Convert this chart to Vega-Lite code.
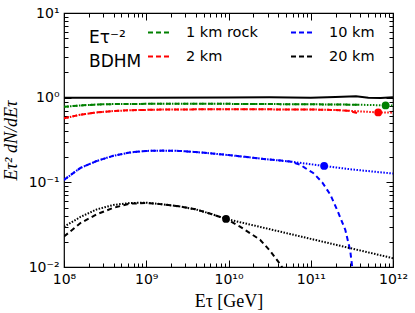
{
  "$schema": "https://vega.github.io/schema/vega-lite/v6.json",
  "width": 329,
  "height": 254,
  "autosize": {"type": "none"},
  "padding": {"left": 64, "top": 13, "right": 22, "bottom": 46},
  "background": "white",
  "config": {
    "view": {"stroke": "black", "strokeWidth": 1.2},
    "axis": {
      "domain": false,
      "grid": false,
      "labelFont": "DejaVu Sans",
      "labelFontSize": 14,
      "labelColor": "black",
      "labelFlush": false,
      "labelOverlap": false,
      "tickColor": "black",
      "tickWidth": 1,
      "titleFont": "Liberation Serif",
      "titleFontSize": 18,
      "titleFontWeight": "normal",
      "titleColor": "black"
    }
  },
  "datasets": {
    "curves": [
      {"series": "E-2", "style": "solid", "E": 1e8, "flux": 1.0},
      {"series": "E-2", "style": "solid", "E": 1e9, "flux": 1.0},
      {"series": "E-2", "style": "solid", "E": 1e10, "flux": 1.005},
      {"series": "E-2", "style": "solid", "E": 3.162e10, "flux": 1.01},
      {"series": "E-2", "style": "solid", "E": 1e11, "flux": 1.0},
      {"series": "E-2", "style": "solid", "E": 1.995e11, "flux": 1.015},
      {"series": "E-2", "style": "solid", "E": 3.548e11, "flux": 1.04},
      {"series": "E-2", "style": "solid", "E": 5.012e11, "flux": 1.0},
      {"series": "E-2", "style": "solid", "E": 7.079e11, "flux": 0.99},
      {"series": "E-2", "style": "solid", "E": 1e12, "flux": 1.01},

      {"series": "1 km rock", "style": "dashed", "E": 1e8, "flux": 0.78},
      {"series": "1 km rock", "style": "dashed", "E": 1.585e8, "flux": 0.81},
      {"series": "1 km rock", "style": "dashed", "E": 2.512e8, "flux": 0.83},
      {"series": "1 km rock", "style": "dashed", "E": 3.981e8, "flux": 0.84},
      {"series": "1 km rock", "style": "dashed", "E": 1e9, "flux": 0.845},
      {"series": "1 km rock", "style": "dashed", "E": 1e10, "flux": 0.845},
      {"series": "1 km rock", "style": "dashed", "E": 1e11, "flux": 0.835},
      {"series": "1 km rock", "style": "dashed", "E": 3.981e11, "flux": 0.825},

      {"series": "1 km rock", "style": "dotted", "E": 1e8, "flux": 0.78},
      {"series": "1 km rock", "style": "dotted", "E": 1.585e8, "flux": 0.81},
      {"series": "1 km rock", "style": "dotted", "E": 2.512e8, "flux": 0.83},
      {"series": "1 km rock", "style": "dotted", "E": 3.981e8, "flux": 0.84},
      {"series": "1 km rock", "style": "dotted", "E": 1e9, "flux": 0.845},
      {"series": "1 km rock", "style": "dotted", "E": 1e10, "flux": 0.845},
      {"series": "1 km rock", "style": "dotted", "E": 1e11, "flux": 0.835},
      {"series": "1 km rock", "style": "dotted", "E": 3.981e11, "flux": 0.825},
      {"series": "1 km rock", "style": "dotted", "E": 8.128e11, "flux": 0.81},
      {"series": "1 km rock", "style": "dotted", "E": 1e12, "flux": 0.805},

      {"series": "2 km", "style": "dashed", "E": 1e8, "flux": 0.57},
      {"series": "2 km", "style": "dashed", "E": 1.585e8, "flux": 0.63},
      {"series": "2 km", "style": "dashed", "E": 2.512e8, "flux": 0.67},
      {"series": "2 km", "style": "dashed", "E": 3.981e8, "flux": 0.695},
      {"series": "2 km", "style": "dashed", "E": 6.31e8, "flux": 0.71},
      {"series": "2 km", "style": "dashed", "E": 1.585e9, "flux": 0.725},
      {"series": "2 km", "style": "dashed", "E": 1e10, "flux": 0.73},
      {"series": "2 km", "style": "dashed", "E": 1e11, "flux": 0.725},
      {"series": "2 km", "style": "dashed", "E": 1.995e11, "flux": 0.715},
      {"series": "2 km", "style": "dashed", "E": 2.818e11, "flux": 0.70},
      {"series": "2 km", "style": "dashed", "E": 3.548e11, "flux": 0.665},
      {"series": "2 km", "style": "dashed", "E": 3.981e11, "flux": 0.64},

      {"series": "2 km", "style": "dotted", "E": 1e8, "flux": 0.57},
      {"series": "2 km", "style": "dotted", "E": 1.585e8, "flux": 0.63},
      {"series": "2 km", "style": "dotted", "E": 2.512e8, "flux": 0.67},
      {"series": "2 km", "style": "dotted", "E": 3.981e8, "flux": 0.695},
      {"series": "2 km", "style": "dotted", "E": 6.31e8, "flux": 0.71},
      {"series": "2 km", "style": "dotted", "E": 1.585e9, "flux": 0.725},
      {"series": "2 km", "style": "dotted", "E": 1e10, "flux": 0.73},
      {"series": "2 km", "style": "dotted", "E": 1e11, "flux": 0.725},
      {"series": "2 km", "style": "dotted", "E": 1.995e11, "flux": 0.715},
      {"series": "2 km", "style": "dotted", "E": 2.512e11, "flux": 0.705},
      {"series": "2 km", "style": "dotted", "E": 6.607e11, "flux": 0.67},
      {"series": "2 km", "style": "dotted", "E": 1e12, "flux": 0.665},

      {"series": "10 km", "style": "dashed", "E": 1e8, "flux": 0.107},
      {"series": "10 km", "style": "dashed", "E": 1.585e8, "flux": 0.148},
      {"series": "10 km", "style": "dashed", "E": 2.512e8, "flux": 0.179},
      {"series": "10 km", "style": "dashed", "E": 3.981e8, "flux": 0.206},
      {"series": "10 km", "style": "dashed", "E": 6.31e8, "flux": 0.225},
      {"series": "10 km", "style": "dashed", "E": 1e9, "flux": 0.235},
      {"series": "10 km", "style": "dashed", "E": 1.585e9, "flux": 0.237},
      {"series": "10 km", "style": "dashed", "E": 2.512e9, "flux": 0.235},
      {"series": "10 km", "style": "dashed", "E": 3.981e9, "flux": 0.228},
      {"series": "10 km", "style": "dashed", "E": 6.31e9, "flux": 0.219},
      {"series": "10 km", "style": "dashed", "E": 1e10, "flux": 0.21},
      {"series": "10 km", "style": "dashed", "E": 1.585e10, "flux": 0.2},
      {"series": "10 km", "style": "dashed", "E": 2.512e10, "flux": 0.19},
      {"series": "10 km", "style": "dashed", "E": 3.981e10, "flux": 0.182},
      {"series": "10 km", "style": "dashed", "E": 5.623e10, "flux": 0.176},
      {"series": "10 km", "style": "dashed", "E": 7.413e10, "flux": 0.162},
      {"series": "10 km", "style": "dashed", "E": 8.511e10, "flux": 0.148},
      {"series": "10 km", "style": "dashed", "E": 1.072e11, "flux": 0.129},
      {"series": "10 km", "style": "dashed", "E": 1.38e11, "flux": 0.10},
      {"series": "10 km", "style": "dashed", "E": 1.738e11, "flux": 0.071},
      {"series": "10 km", "style": "dashed", "E": 2.138e11, "flux": 0.045},
      {"series": "10 km", "style": "dashed", "E": 2.63e11, "flux": 0.0275},
      {"series": "10 km", "style": "dashed", "E": 3.02e11, "flux": 0.0156},
      {"series": "10 km", "style": "dashed", "E": 3.236e11, "flux": 0.009},

      {"series": "10 km", "style": "dotted", "E": 1e8, "flux": 0.107},
      {"series": "10 km", "style": "dotted", "E": 1.585e8, "flux": 0.148},
      {"series": "10 km", "style": "dotted", "E": 2.512e8, "flux": 0.179},
      {"series": "10 km", "style": "dotted", "E": 3.981e8, "flux": 0.206},
      {"series": "10 km", "style": "dotted", "E": 6.31e8, "flux": 0.225},
      {"series": "10 km", "style": "dotted", "E": 1e9, "flux": 0.235},
      {"series": "10 km", "style": "dotted", "E": 1.585e9, "flux": 0.237},
      {"series": "10 km", "style": "dotted", "E": 2.512e9, "flux": 0.235},
      {"series": "10 km", "style": "dotted", "E": 3.981e9, "flux": 0.228},
      {"series": "10 km", "style": "dotted", "E": 6.31e9, "flux": 0.219},
      {"series": "10 km", "style": "dotted", "E": 1e10, "flux": 0.21},
      {"series": "10 km", "style": "dotted", "E": 1.585e10, "flux": 0.2},
      {"series": "10 km", "style": "dotted", "E": 2.512e10, "flux": 0.19},
      {"series": "10 km", "style": "dotted", "E": 3.981e10, "flux": 0.182},
      {"series": "10 km", "style": "dotted", "E": 5.623e10, "flux": 0.176},
      {"series": "10 km", "style": "dotted", "E": 1.455e11, "flux": 0.156},
      {"series": "10 km", "style": "dotted", "E": 3.162e11, "flux": 0.142},
      {"series": "10 km", "style": "dotted", "E": 1e12, "flux": 0.127},

      {"series": "20 km", "style": "dashed", "E": 1e8, "flux": 0.0229},
      {"series": "20 km", "style": "dashed", "E": 1.585e8, "flux": 0.033},
      {"series": "20 km", "style": "dashed", "E": 2.512e8, "flux": 0.042},
      {"series": "20 km", "style": "dashed", "E": 3.981e8, "flux": 0.050},
      {"series": "20 km", "style": "dashed", "E": 6.31e8, "flux": 0.056},
      {"series": "20 km", "style": "dashed", "E": 1e9, "flux": 0.057},
      {"series": "20 km", "style": "dashed", "E": 1.585e9, "flux": 0.055},
      {"series": "20 km", "style": "dashed", "E": 2.512e9, "flux": 0.052},
      {"series": "20 km", "style": "dashed", "E": 3.981e9, "flux": 0.048},
      {"series": "20 km", "style": "dashed", "E": 6.31e9, "flux": 0.042},
      {"series": "20 km", "style": "dashed", "E": 9.33e9, "flux": 0.037},
      {"series": "20 km", "style": "dashed", "E": 1.38e10, "flux": 0.030},
      {"series": "20 km", "style": "dashed", "E": 2.42e10, "flux": 0.021},
      {"series": "20 km", "style": "dashed", "E": 3.206e10, "flux": 0.0155},
      {"series": "20 km", "style": "dashed", "E": 4.246e10, "flux": 0.0108},
      {"series": "20 km", "style": "dashed", "E": 4.677e10, "flux": 0.0093},

      {"series": "20 km", "style": "dotted", "E": 1e8, "flux": 0.030},
      {"series": "20 km", "style": "dotted", "E": 1.585e8, "flux": 0.039},
      {"series": "20 km", "style": "dotted", "E": 2.512e8, "flux": 0.048},
      {"series": "20 km", "style": "dotted", "E": 3.981e8, "flux": 0.054},
      {"series": "20 km", "style": "dotted", "E": 6.31e8, "flux": 0.057},
      {"series": "20 km", "style": "dotted", "E": 1e9, "flux": 0.0575},
      {"series": "20 km", "style": "dotted", "E": 1.585e9, "flux": 0.055},
      {"series": "20 km", "style": "dotted", "E": 2.512e9, "flux": 0.052},
      {"series": "20 km", "style": "dotted", "E": 3.981e9, "flux": 0.048},
      {"series": "20 km", "style": "dotted", "E": 6.31e9, "flux": 0.042},
      {"series": "20 km", "style": "dotted", "E": 9.33e9, "flux": 0.037},
      {"series": "20 km", "style": "dotted", "E": 1e11, "flux": 0.0215},
      {"series": "20 km", "style": "dotted", "E": 1e12, "flux": 0.0127}
    ],
    "points": [
      {"series": "1 km rock", "E": 8.128e11, "flux": 0.81},
      {"series": "2 km", "E": 6.607e11, "flux": 0.67},
      {"series": "10 km", "E": 1.455e11, "flux": 0.156},
      {"series": "20 km", "E": 9.33e9, "flux": 0.037}
    ]
  },
  "layer": [
    {
      "data": {"name": "curves"},
      "transform": [{"filter": "datum.style == 'dashed'"}],
      "mark": {"type": "line", "strokeWidth": 2, "strokeDash": [5, 3.5], "clip": true},
      "encoding": {
        "x": {"field": "E", "type": "quantitative", "scale": {"type": "log", "domain": [1e8, 1e12]},
          "axis": {"orient": "bottom", "values": [1e8, 1e9, 1e10, 1e11, 1e12], "offset": -7, "tickSize": 7, "labelPadding": 5,
            "labelExpr": "datum.value < 5e8 ? '10⁸' : datum.value < 5e9 ? '10⁹' : datum.value < 5e10 ? '10¹⁰' : datum.value < 5e11 ? '10¹¹' : '10¹²'",
            "title": "Eτ [GeV]", "titlePadding": 6}},
        "y": {"field": "flux", "type": "quantitative", "scale": {"type": "log", "domain": [0.01, 10]},
          "axis": {"orient": "left", "values": [0.01, 0.1, 1, 10], "offset": -7, "tickSize": 7, "labelPadding": 5,
            "labelExpr": "datum.value < 0.05 ? '10⁻²' : datum.value < 0.5 ? '10⁻¹' : datum.value < 5 ? '10⁰' : '10¹'",
            "title": "Eτ² dN/dEτ", "titleFontStyle": "italic", "titlePadding": 8}},
        "color": {"field": "series", "type": "nominal",
          "scale": {"domain": ["1 km rock", "2 km", "10 km", "20 km"], "range": ["#008000", "#ff0000", "#0000ff", "#000000"]},
          "legend": {
            "orient": "none", "legendX": 25, "legendY": 8, "columns": 2,
            "title": ["Eτ⁻²", "BDHM"], "titleOrient": "left", "titleFontSize": 17, "titleFont": "DejaVu Sans",
            "titleFontWeight": "normal", "titleColor": "black", "titleLineHeight": 24, "titleAnchor": "middle", "titleBaseline": "top",
            "titleAlign": "left", "titlePadding": 5,
            "symbolType": "stroke", "symbolSize": 441, "symbolStrokeWidth": 2, "symbolDash": [5, 3],
            "labelFontSize": 14.5, "labelFont": "DejaVu Sans", "labelColor": "black", "labelOffset": 16,
            "columnPadding": 29, "rowPadding": 6, "padding": 0
          }
        }
      }
    },
    {
      "data": {"name": "curves"},
      "transform": [{"filter": "datum.style == 'dotted'"}],
      "mark": {"type": "line", "strokeWidth": 2, "strokeDash": [1.5, 1.5], "clip": true},
      "encoding": {
        "x": {"field": "E", "type": "quantitative",
          "axis": {"orient": "bottom", "values": [2e8,3e8,4e8,5e8,6e8,7e8,8e8,9e8,2e9,3e9,4e9,5e9,6e9,7e9,8e9,9e9,2e10,3e10,4e10,5e10,6e10,7e10,8e10,9e10,2e11,3e11,4e11,5e11,6e11,7e11,8e11,9e11], "offset": -4, "tickSize": 4, "labels": false, "title": null}},
        "y": {"field": "flux", "type": "quantitative",
          "axis": {"orient": "left", "values": [0.02,0.03,0.04,0.05,0.06,0.07,0.08,0.09,0.2,0.3,0.4,0.5,0.6,0.7,0.8,0.9,2,3,4,5,6,7,8,9], "offset": -4, "tickSize": 4, "labels": false, "title": null}},
        "color": {"field": "series", "type": "nominal", "legend": null}
      }
    },
    {
      "data": {"name": "curves"},
      "transform": [{"filter": "datum.style == 'solid'"}],
      "mark": {"type": "line", "strokeWidth": 2, "color": "black", "clip": true},
      "encoding": {
        "x": {"field": "E", "type": "quantitative",
          "axis": {"orient": "top", "values": [1e8, 1e9, 1e10, 1e11, 1e12], "offset": -7, "tickSize": 7, "labels": false, "title": null}},
        "y": {"field": "flux", "type": "quantitative",
          "axis": {"orient": "right", "values": [0.01, 0.1, 1, 10], "offset": -7, "tickSize": 7, "labels": false, "title": null}}
      }
    },
    {
      "data": {"name": "points"},
      "mark": {"type": "circle", "size": 60, "opacity": 1},
      "encoding": {
        "x": {"field": "E", "type": "quantitative",
          "axis": {"orient": "top", "values": [2e8,3e8,4e8,5e8,6e8,7e8,8e8,9e8,2e9,3e9,4e9,5e9,6e9,7e9,8e9,9e9,2e10,3e10,4e10,5e10,6e10,7e10,8e10,9e10,2e11,3e11,4e11,5e11,6e11,7e11,8e11,9e11], "offset": -4, "tickSize": 4, "labels": false, "title": null}},
        "y": {"field": "flux", "type": "quantitative",
          "axis": {"orient": "right", "values": [0.02,0.03,0.04,0.05,0.06,0.07,0.08,0.09,0.2,0.3,0.4,0.5,0.6,0.7,0.8,0.9,2,3,4,5,6,7,8,9], "offset": -4, "tickSize": 4, "labels": false, "title": null}},
        "color": {"field": "series", "type": "nominal", "legend": null}
      }
    }
  ],
  "resolve": {"axis": {"x": "independent", "y": "independent"}, "legend": {"color": "independent"}}
}
